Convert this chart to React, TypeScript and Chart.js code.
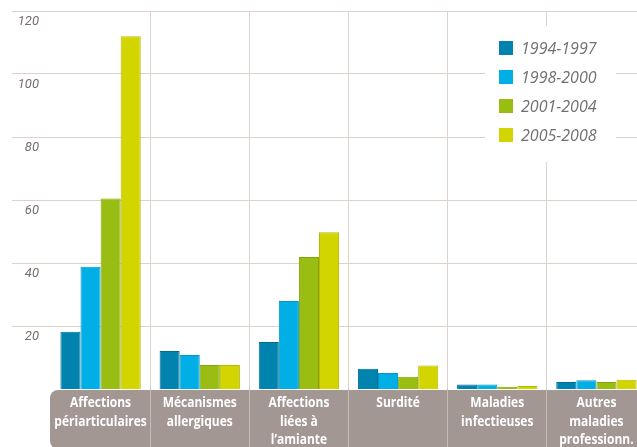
import React, { useEffect, useRef } from "react";
import { Chart, registerables } from "chart.js";

Chart.register(...registerables);

// Occupational disease categories (x axis labels, multi-line)
const categories: string[][] = [
  ["Affections", "périarticulaires"],
  ["Mécanismes", "allergiques"],
  ["Affections", "liées à", "l’amiante"],
  ["Surdité"],
  ["Maladies", "infectieuses"],
  ["Autres", "maladies", "professionn."],
];

const periods = ["1994-1997", "1998-2000", "2001-2004", "2005-2008"];

const values1994_1997 = [18.2, 12.1, 14.9, 6.4, 1.4, 2.2];
const values1998_2000 = [38.8, 10.8, 27.9, 5.1, 1.4, 2.8];
const values2001_2004 = [60.5, 7.6, 41.9, 3.9, 0.7, 2.2];
const values2005_2008 = [112, 7.6, 49.8, 7.5, 0.95, 2.9];

const yTicks = [20, 40, 60, 80, 100, 120];

const fills = ["#0083ae", "#00afe5", "#99bd12", "#d2d500"];
const borders = ["#006d93", "#0096c9", "#84a30c", "#b7b900"];

const GRID = "#ddd1cc";
const BAND = "#a39793";
const BAND_SEP = "#c6bbb7";

// Grey rounded strip behind the category labels
const bandPlugin = {
  id: "labelBand",
  beforeDraw(chart: any) {
    const { ctx, chartArea, height, width } = chart;
    const x = Math.round(chartArea.left) - 1;
    const y = Math.round(chartArea.bottom) + 1;
    ctx.save();
    ctx.fillStyle = BAND;
    ctx.beginPath();
    ctx.roundRect(x, y, width - x + 10, height - y + 2, [8, 0, 0, 8]);
    ctx.fill();
    ctx.restore();
  },
};

// Condensed white category names, centred on each x tick inside the band
const categoryLabelPlugin = {
  id: "categoryLabels",
  afterDraw(chart: any) {
    const { ctx, chartArea } = chart;
    const xs = chart.scales.x;
    ctx.save();
    ctx.fillStyle = "#ffffff";
    ctx.font = "bold 15px 'Open Sans'";
    ctx.textAlign = "center";
    ctx.textBaseline = "middle";
    (chart.data.labels as string[][]).forEach((lines, i) => {
      const cx = xs.getPixelForTick(i);
      lines.forEach((line, k) => {
        ctx.save();
        ctx.translate(cx, chartArea.bottom + 14 + k * 18.5);
        ctx.scale(0.8, 1);
        ctx.fillText(line, 0, 0);
        ctx.restore();
      });
    });
    ctx.restore();
  },
};

// Legend box in the upper right of the plot, on a white ground
const legendPlugin = {
  id: "boxLegend",
  afterDatasetsDraw(chart: any) {
    const { ctx, chartArea } = chart;
    const boxRight = chartArea.right - 30;
    const boxLeft = boxRight - 131;
    ctx.save();
    ctx.fillStyle = "#ffffff";
    ctx.fillRect(boxLeft, 26, boxRight - boxLeft, 136);
    ctx.font = "italic 16px 'Open Sans'";
    ctx.textBaseline = "middle";
    ctx.textAlign = "left";
    chart.data.datasets.forEach((ds: any, i: number) => {
      const top = 41 + i * 29;
      ctx.fillStyle = ds.backgroundColor;
      ctx.fillRect(boxLeft + 14, top, 14, 14);
      ctx.fillStyle = "#707070";
      ctx.fillText(ds.label, boxLeft + 36, top + 8);
    });
    ctx.restore();
  },
};

export default function App() {
  const canvasRef = useRef<HTMLCanvasElement | null>(null);

  useEffect(() => {
    if (!canvasRef.current) return;
    const series = [values1994_1997, values1998_2000, values2001_2004, values2005_2008];
    const chart = new Chart(canvasRef.current, {
      type: "bar",
      data: {
        labels: categories,
        datasets: series.map((data, i) => ({
          label: periods[i],
          data,
          backgroundColor: fills[i],
          borderColor: borders[i],
          borderWidth: 1,
          categoryPercentage: 0.81,
          barPercentage: 1,
        })),
      },
      options: {
        animation: false,
        responsive: false,
        devicePixelRatio: 1,
        layout: { padding: { top: 11, right: 14, left: 0, bottom: 0 } },
        plugins: {
          legend: { display: false },
          tooltip: { enabled: false },
        },
        scales: {
          x: {
            grid: {
              offset: true,
              color: (c: any) => (c.index === 0 ? "rgba(0,0,0,0)" : GRID),
              tickColor: (c: any) => (c.index === 0 ? "rgba(0,0,0,0)" : BAND_SEP),
              drawTicks: true,
              tickLength: 58,
            },
            border: { display: false },
            ticks: { display: false, autoSkip: false, maxRotation: 0 },
            afterFit: (s: any) => {
              s.height = 58;
            },
          },
          y: {
            min: 0,
            max: 120,
            afterBuildTicks: (s: any) => {
              s.ticks = [0, ...yTicks].map((v) => ({ value: v }));
            },
            grid: {
              color: GRID,
              tickColor: GRID,
              drawTicks: true,
              tickLength: 39,
            },
            border: { display: false },
            ticks: {
              callback: (v: any) => (v === 0 ? null : String(v)),
              labelOffset: 11,
              padding: -27,
              color: "#776d6a",
              font: { family: "Roboto", style: "italic", size: 13 },
            },
            afterFit: (s: any) => {
              s.width = 51;
            },
          },
        },
      },
      plugins: [bandPlugin, categoryLabelPlugin, legendPlugin],
    });
    return () => chart.destroy();
  }, []);

  return (
    <div
      style={{
        position: "fixed",
        left: 0,
        top: 0,
        width: 637,
        height: 447,
        overflow: "hidden",
        background: "#ffffff",
      }}
    >
      <canvas ref={canvasRef} width={660} height={447} style={{ width: 660, height: 447, display: "block" }} />
    </div>
  );
}
